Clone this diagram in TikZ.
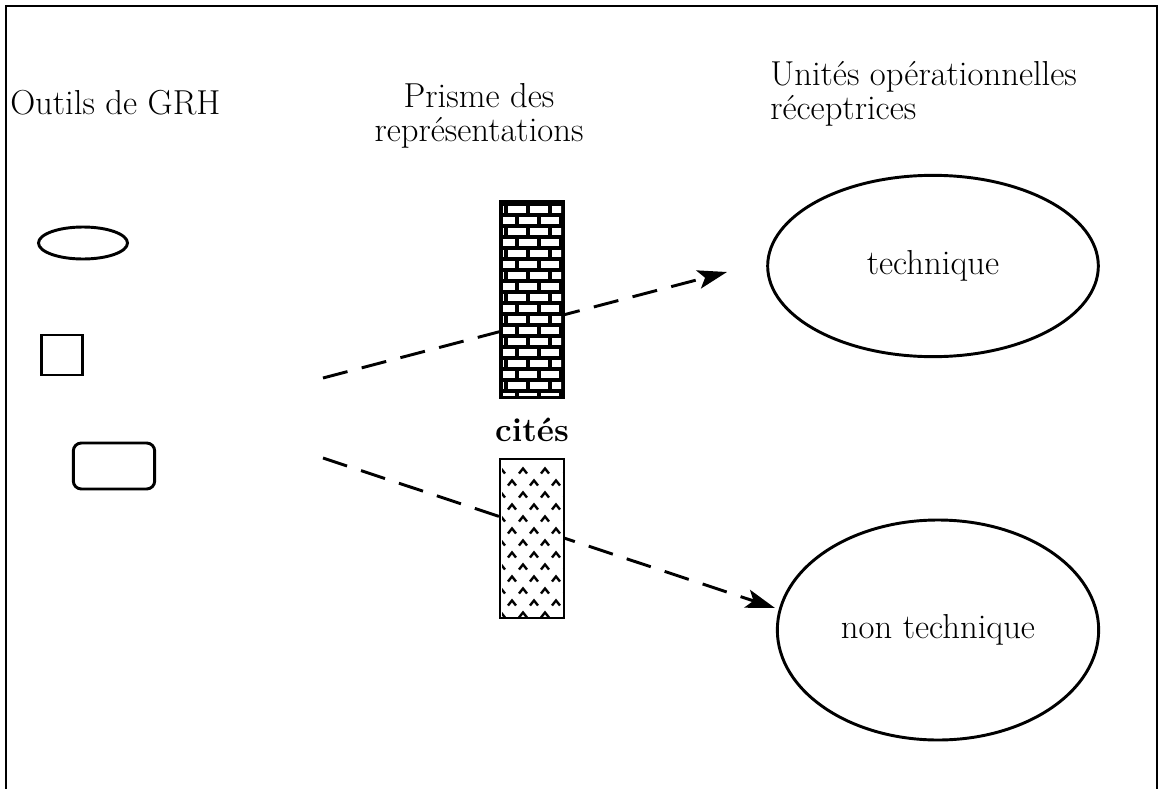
\documentclass[tikz,border=0pt]{standalone}
\usetikzlibrary{arrows.meta,shapes.geometric}
\begin{document}
\begin{tikzpicture}[x=0.75pt,y=-0.75pt,
  txt/.style={font=\fontsize{26}{25}\selectfont, inner sep=0pt},
  shp/.style={draw, line width=2.2pt, inner sep=0pt},
  flow/.style={line width=2.2pt, dash pattern=on 19pt off 11pt,
    -{Stealth[length=22pt,width=14pt,inset=5pt]}},
  frame/.style={line width=1.6pt}]
\useasboundingbox (0,0) rectangle (1161,789);

% frame (open at bottom)
\draw[frame] (6,789) -- (6,6) -- (1157,6) -- (1157,789);

% headings
\node[txt, anchor=base west] (outils) at (10,114) {Outils de GRH};
\node[txt, align=center, anchor=base] (prisme) at (479,141) {Prisme des\\repr\'esentations};
\node[txt, align=left, anchor=base west] (unites) at (770,119) {Unit\'es op\'erationnelles\\r\'eceptrices};

% tool shapes
\node[shp, ellipse, minimum width=66.75pt, minimum height=24pt] (ell) at (83,243) {};
\node[shp, rectangle, minimum width=31pt, minimum height=30pt] (sq) at (62,355) {};
\node[shp, rectangle, rounded corners=6pt, minimum width=61pt, minimum height=34.5pt] (rr) at (114,466) {};

% receiving units
\node[shp, ellipse, minimum width=248pt, minimum height=136pt, txt] (tech) at (933,266) {technique};
\node[shp, ellipse, minimum width=241pt, minimum height=165pt, txt] (nontech) at (938,630) {non technique};

% arrows
\coordinate (s1) at (323,378);
\coordinate (e1) at (727,272);
\coordinate (s2) at (323,458);
\coordinate (e2) at (775,608);
\draw[flow] (s1) -- (e1);
\draw[flow] (s2) -- (e2);

% brick wall
\fill[black] (500,201) rectangle (564,398);
\begin{scope}
  \clip (503,204) rectangle (561,395);
  \foreach \r in {0,...,17}{
    \pgfmathsetmacro{\yy}{206+11*\r}
    \pgfmathsetmacro{\off}{mod(\r,2)*11}
    \foreach \c in {0,...,3}{
      \fill[white] ({486+\off+22*\c},{\yy}) rectangle ++(18,7);
    }
  }
\end{scope}
\node[draw, line width=2.2pt, inner sep=0pt, minimum width=48pt, minimum height=147.75pt] (wall) at (532,299.5) {};

% cites
\node[txt, font=\fontsize{25}{25}\selectfont\bfseries] (cites) at (532,430) {cit\'es};

% chevron pattern bar
\fill[white] (500,459) rectangle (564,618);
\begin{scope}
  \clip (502,461) rectangle (562,616);
  \foreach \r in {0,...,12}{
    \pgfmathsetmacro{\yy}{471+12*\r}
    \pgfmathsetmacro{\off}{mod(\r,2)*11}
    \foreach \c in {-1,...,3}{
      \draw[line width=1.8pt] ({497+\off+22*\c},{\yy+2.5}) -- ({501+\off+22*\c},{\yy-2.5}) -- ({505+\off+22*\c},{\yy+2.5});
    }
  }
\end{scope}
\node[draw, line width=2.2pt, inner sep=0pt, minimum width=48pt, minimum height=119.25pt] (dots) at (532,538.5) {};
\end{tikzpicture}
\end{document}
